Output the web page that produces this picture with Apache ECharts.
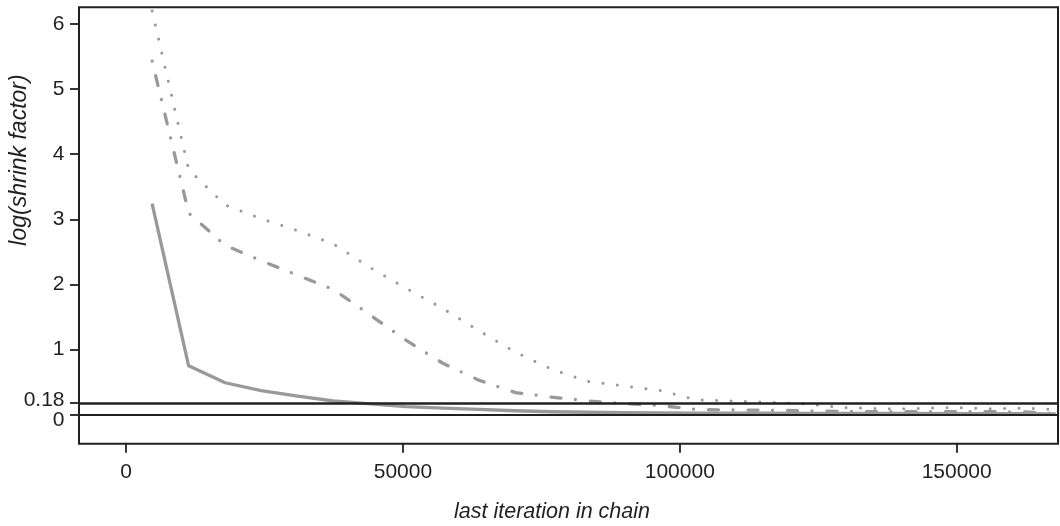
<!DOCTYPE html>
<html>
<head>
<meta charset="utf-8">
<script src="https://cdn.jsdelivr.net/npm/echarts@6/dist/echarts.min.js"></script>
<style>
html,body{margin:0;padding:0;background:#fff;}
#chart{width:1060px;height:526px;}
</style>
</head>
<body>
<div id="chart"></div>
<script>
// last iteration in chain (x values of the plotted points)
const iterations = [4700, 11300, 17900, 24400, 31000, 37500, 44100, 50600, 57200, 63700,
  70300, 76800, 83400, 90000, 96500, 103100, 109600, 116200, 122700, 129300,
  135900, 142400, 149000, 155500, 162100, 167900];
// log(shrink factor) values per series
const solidVals = [3.24, 0.75, 0.49, 0.37, 0.285, 0.21, 0.165, 0.125, 0.10, 0.08,
  0.06, 0.045, 0.037, 0.032, 0.028, 0.025, 0.024, 0.022, 0.021, 0.02,
  0.019, 0.018, 0.017, 0.016, 0.015, 0.01];
const dashDotVals = [5.43, 3.10, 2.60, 2.365, 2.14, 1.92, 1.53, 1.14, 0.79, 0.53,
  0.34, 0.27, 0.21, 0.17, 0.14, 0.078, 0.072, 0.07, 0.06, 0.05,
  0.045, 0.045, 0.048, 0.048, 0.042, 0.02];
const dottedVals = [6.20, 3.765, 3.22, 3.01, 2.826, 2.62, 2.257, 1.94, 1.63, 1.29,
  0.96, 0.70, 0.51, 0.44, 0.37, 0.226, 0.21, 0.19, 0.165, 0.11,
  0.092, 0.092, 0.11, 0.092, 0.10, 0.08];
// axis ticks
const xTicks = [0, 50000, 100000, 150000];
const yTicks = [0, 1, 2, 3, 4, 5, 6];
const yThresholdTicks = [0.18];
// horizontal reference lines
const refLines = [0.18, 0];

const ink = '#231f20';
const gray = '#999999';
const fontFam = '"Liberation Sans", Arial, Helvetica, sans-serif';
const Y_MIN = -0.446, Y_MAX = 6.257;

function pairs(vals) { return iterations.map((x, i) => [x, vals[i]]); }

function yAxisDef(ticks, formatter, rich) {
  return {
    type: 'value', min: Y_MIN, max: Y_MAX, position: 'left', offset: 0,
    axisLine: {show: false, onZero: false},
    splitLine: {show: false},
    axisTick: {show: true, length: 9, inside: false, customValues: ticks, lineStyle: {color: ink, width: 1.8}},
    axisLabel: {customValues: ticks, fontSize: 21, fontFamily: fontFam, color: ink, margin: 14.5,
      hideOverlap: false, showMinLabel: true, showMaxLabel: true, formatter: formatter, rich: rich}
  };
}

const chart = echarts.init(document.getElementById('chart'), null, {renderer: 'canvas'});
chart.setOption({
  animation: false,
  backgroundColor: '#fff',
  grid: {left: 79, right: 2, top: 7.3, bottom: 82.3, show: true, borderColor: ink, borderWidth: 2, backgroundColor: 'transparent'},
  xAxis: {
    type: 'value', min: -8500, max: 168300,
    axisLine: {show: false, onZero: false},
    splitLine: {show: false},
    axisTick: {show: true, length: 9, inside: false, customValues: xTicks, lineStyle: {color: ink, width: 1.8}},
    axisLabel: {customValues: xTicks, fontSize: 21, fontFamily: fontFam, color: ink, margin: 18,
      hideOverlap: false, showMinLabel: true, showMaxLabel: true,
      formatter: v => String(v)}
  },
  yAxis: [
    yAxisDef(yTicks,
      v => Math.abs(v) < 1e-9 ? '{d|0}' : '{n|' + v + '}',
      {
        d: {fontSize: 21, fontFamily: fontFam, color: ink, padding: [12, 0, 0, 0]},
        n: {fontSize: 21, fontFamily: fontFam, color: ink}
      }),
    yAxisDef(yThresholdTicks,
      v => '{u|' + v + '}',
      {
        u: {fontSize: 21, fontFamily: fontFam, color: ink, padding: [0, 0, 6, 0]}
      })
  ],
  series: [
    {
      name: 'solid', type: 'line', yAxisIndex: 0, data: pairs(solidVals), showSymbol: false, symbol: 'none',
      lineStyle: {color: gray, width: 3.3, type: 'solid', join: 'round'},
      markLine: {
        silent: true, symbol: 'none', label: {show: false}, animation: false,
        data: [
          {yAxis: refLines[0], lineStyle: {color: ink, width: 2.7, type: 'solid'}},
          {yAxis: refLines[1], lineStyle: {color: ink, width: 2, type: 'solid'}}
        ]
      }
    },
    {
      name: 'dashdot', type: 'line', yAxisIndex: 0, data: pairs(dashDotVals), showSymbol: false, symbol: 'none',
      lineStyle: {color: gray, width: 3.3, type: [0.01, 15, 10, 14.5], cap: 'round', join: 'round'}
    },
    {
      name: 'dotted', type: 'line', yAxisIndex: 0, data: pairs(dottedVals), showSymbol: false, symbol: 'none',
      lineStyle: {color: gray, width: 3, type: [0.01, 14.4], cap: 'round', join: 'round'}
    }
  ],
  graphic: [
    {type: 'text', x: 552, y: 512, silent: true,
      style: {text: 'last iteration in chain', font: 'italic 21.5px ' + fontFam, fill: ink,
        align: 'center', verticalAlign: 'middle', textAlign: 'center', textVerticalAlign: 'middle'}},
    {type: 'text', x: 19.5, y: 160, rotation: Math.PI / 2, silent: true,
      style: {text: 'log(shrink factor)', font: 'italic 23px ' + fontFam, fill: ink,
        align: 'center', verticalAlign: 'middle', textAlign: 'center', textVerticalAlign: 'middle'}}
  ]
});
</script>
</body>
</html>
